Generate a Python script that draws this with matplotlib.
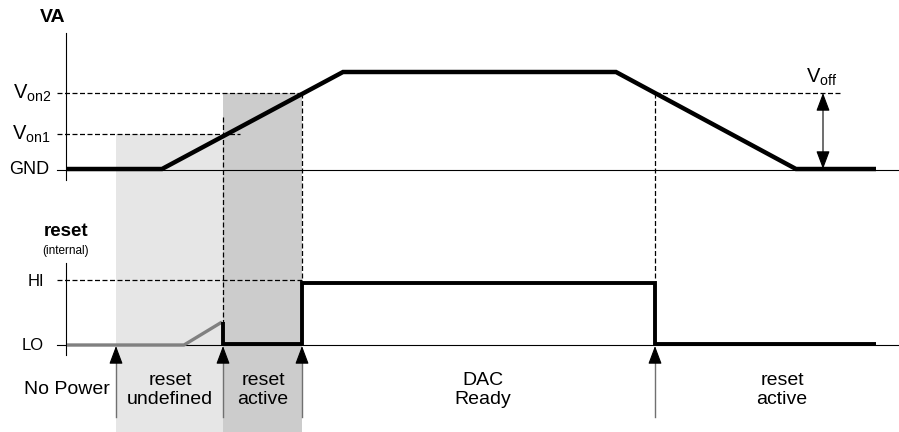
import numpy as np
import matplotlib.pyplot as plt
from matplotlib.patches import Rectangle

plt.rcParams['font.family'] = ['Liberation Sans', 'DejaVu Sans']
plt.rcParams['mathtext.fontset'] = 'custom'
plt.rcParams['mathtext.rm'] = 'Liberation Sans'

# levels (y positions of the signal levels)
GND, VON1, VON2, VTOP = 169, 134, 93, 72
LO, HI, RST_UNDEF = 345, 281, 322

# event times
t_start, t_undef, t_on1, t_on2, t_off, t_end = 67, 116, 223, 302, 655, 876

# VA waveform
va_t = [t_start, 162, 343, 616, 796, t_end]
va_v = [GND, GND, VTOP, VTOP, GND, GND]

# reset waveform (undefined part, grey)
rst_gray_t = [t_start, 184, t_on1 - 1]
rst_gray_v = [LO, LO, RST_UNDEF]

# reset waveform (defined part, black)
rst_t = [t_on1, t_on1, t_on2, t_on2, t_off, t_off, t_end]
rst_v = [RST_UNDEF, LO - 1, LO - 1, HI + 2, HI + 2, LO - 1, LO - 1]

# phase labels
phase_x = [67, 170, 263, 483, 782]
phase_txt = ['No Power', 'reset\nundefined', 'reset\nactive', 'DAC\nReady', 'reset\nactive']

arrow_t = [t_undef, t_on1, t_on2, t_off]

fig = plt.figure(figsize=(8.99, 4.32), dpi=100)
ax = fig.add_axes([0, 0, 1, 1])
ax.set_xlim(0, 899)
ax.set_ylim(432, 0)
ax.axis('off')

# shaded phases
ax.add_patch(Rectangle((t_undef, VON1), t_on1 - t_undef, 432 - VON1, color='#e6e6e6', lw=0, zorder=0))
ax.add_patch(Rectangle((t_on1, VON2), t_on2 - t_on1, 432 - VON2, color='#cccccc', lw=0, zorder=0))

thin = dict(color='black', lw=0.8)
dash = dict(color='black', lw=0.9, ls=(0, (4, 2)))

# axes of the diagram
ax.plot([66, 66], [33, 180], **thin)
ax.plot([57, 899], [170, 170], **thin)
ax.plot([66, 66], [263, 355], **thin)
ax.plot([57, 899], [345, 345], **thin)

# dashed helper lines
ax.plot([57, t_on2], [VON2, VON2], **dash)
ax.plot([57, 240], [VON1, VON1], **dash)
ax.plot([t_off, 842], [VON2, VON2], **dash)
ax.plot([57, t_on2], [HI - 1, HI - 1], **dash)
ax.plot([t_on1, t_on1], [117, RST_UNDEF], **dash)
ax.plot([t_on2, t_on2], [VON2, HI], **dash)
ax.plot([t_off, t_off], [VON2, HI], **dash)

# waveforms
ax.plot(va_t, va_v, color='black', lw=3.2, solid_joinstyle='miter', solid_capstyle='butt')
ax.plot(rst_gray_t, rst_gray_v, color='#808080', lw=2.4, solid_capstyle='butt')
ax.plot(rst_t, rst_v, color='black', lw=2.8, solid_joinstyle='miter', solid_capstyle='butt')

# Voff arrow
ax.annotate('', xy=(823, VON2), xytext=(823, 169),
            arrowprops=dict(arrowstyle='<|-|>,head_length=0.8,head_width=0.3', color='black', lw=0.8,
                            mutation_scale=14, shrinkA=0, shrinkB=0))

# event arrows
for t in arrow_t:
    ax.plot([t, t], [360, 417], color='#707070', lw=1.0)
    ax.annotate('', xy=(t, 346), xytext=(t, 362),
                arrowprops=dict(arrowstyle='-|>,head_length=0.8,head_width=0.3', color='black', lw=0.8,
                                mutation_scale=14, shrinkA=0, shrinkB=0))

# labels
ax.text(53, 18, 'VA', ha='center', va='center', fontsize=14, fontweight='bold')
ax.text(51, VON2, r'V$_{\mathrm{on2}}$', ha='right', va='center', fontsize=14.5)
ax.text(51, VON1, r'V$_{\mathrm{on1}}$', ha='right', va='center', fontsize=14.5)
ax.text(49, 170, 'GND', ha='right', va='center', fontsize=13)
ax.text(806, 77, r'V$_{\mathrm{off}}$', ha='left', va='center', fontsize=14.5)

ax.text(66, 231, 'reset', ha='center', va='center', fontsize=13.5, fontweight='bold')
ax.text(66, 251, '(internal)', ha='center', va='center', fontsize=8.5)
ax.text(44, HI, 'HI', ha='right', va='center', fontsize=12)
ax.text(44, LO, 'LO', ha='right', va='center', fontsize=12)

for x, s in zip(phase_x, phase_txt):
    ax.text(x, 390, s, ha='center', va='center', fontsize=14, linespacing=1.2)

fig.savefig('out.png', dpi=100)
